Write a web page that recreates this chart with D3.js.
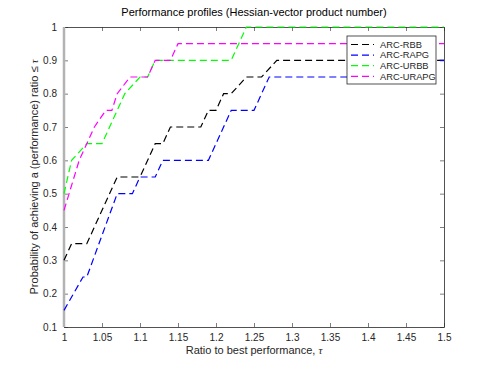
<!doctype html>
<html>
<head>
  <meta charset="utf-8">
  <script src="https://cdnjs.cloudflare.com/ajax/libs/d3/7.8.5/d3.min.js"></script>
  <style>
    body { margin: 0; background: white; }
    text { font-family: 'Liberation Sans', Arial, sans-serif; fill: #262626; }
    .tick text { font-size: 10px; }
    .tau { font-family: 'Liberation Serif', serif; font-style: italic; }
  </style>
</head>
<body>
  <script>
    const width = 491, height = 368;
    const margin = {left: 64, right: 47, top: 27, bottom: 41};

    const xTicks = [1, 1.05, 1.1, 1.15, 1.2, 1.25, 1.3, 1.35, 1.4, 1.45, 1.5];
    const yTicks = [0.1, 0.2, 0.3, 0.4, 0.5, 0.6, 0.7, 0.8, 0.9, 1];

    const names = ['ARC-RBB', 'ARC-RAPG', 'ARC-URBB', 'ARC-URAPG'];
    const colors = ['#000000', '#0000ff', '#00ff00', '#ff00ff'];

    // [tau, probability]
    const rbb = [[1,0.3],[1.01,0.35],[1.03,0.35],[1.07,0.55],[1.10,0.55],[1.12,0.65],[1.13,0.65],
      [1.14,0.7],[1.18,0.7],[1.19,0.75],[1.20,0.75],[1.21,0.8],[1.22,0.8],[1.24,0.85],[1.26,0.85],
      [1.28,0.9],[1.5,0.9]];
    const rapg = [[1,0.15],[1.025,0.25],[1.03,0.25],[1.07,0.5],[1.09,0.5],[1.10,0.55],[1.12,0.55],
      [1.13,0.6],[1.19,0.6],[1.22,0.75],[1.25,0.75],[1.27,0.85],[1.46,0.85],[1.47,0.9],[1.5,0.9]];
    const urbb = [[1,0.5],[1.01,0.6],[1.03,0.65],[1.05,0.65],[1.07,0.75],[1.08,0.8],[1.10,0.85],
      [1.11,0.85],[1.12,0.9],[1.22,0.9],[1.24,1],[1.5,1]];
    const urapg = [[1,0.45],[1.02,0.6],[1.03,0.65],[1.04,0.7],[1.055,0.75],[1.063,0.75],[1.07,0.8],
      [1.087,0.85],[1.11,0.85],[1.12,0.9],[1.14,0.9],[1.15,0.95],[1.5,0.95]];
    const series = [rbb, rapg, urbb, urapg];

    const iw = width - margin.left - margin.right;
    const ih = height - margin.top - margin.bottom;

    const svg = d3.select('body').append('svg')
      .attr('width', width)
      .attr('height', height);

    const g = svg.append('g')
      .attr('transform', `translate(${margin.left},${margin.top})`);

    const x = d3.scaleLinear().domain([1, 1.5]).range([0, iw]);
    const y = d3.scaleLinear().domain([0.1, 1]).range([ih, 0]);

    const fmt = d => String(+d.toFixed(2));

    // axes with inward ticks
    const axes = [
      [d3.axisBottom(x).tickValues(xTicks).tickFormat(fmt), `translate(0,${ih})`],
      [d3.axisTop(x).tickValues(xTicks).tickFormat(''), 'translate(0,0)'],
      [d3.axisLeft(y).tickValues(yTicks).tickFormat(fmt), 'translate(0,0)'],
      [d3.axisRight(y).tickValues(yTicks).tickFormat(''), `translate(${iw},0)`]
    ];
    axes.forEach(([ax, tr]) => {
      const a = g.append('g').attr('transform', tr)
        .call(ax.tickSizeInner(-4).tickSizeOuter(0).tickPadding(7));
      a.select('.domain').attr('stroke', '#262626').attr('stroke-width', 0.8);
      a.selectAll('.tick line').attr('stroke', '#262626').attr('stroke-width', 0.6);
    });
    // left spine looks light grey and thicker in the reference
    g.append('line').attr('x1', 0).attr('x2', 0).attr('y1', 0).attr('y2', ih)
      .attr('stroke', '#b3b3b3').attr('stroke-width', 2.5);

    const line = d3.line().x(d => x(d[0])).y(d => y(d[1]));

    series.forEach((s, i) => {
      g.append('path')
        .datum(s)
        .attr('d', line)
        .attr('fill', 'none')
        .attr('stroke', colors[i])
        .attr('stroke-width', 1.2)
        .attr('stroke-dasharray', '7,4');
    });

    // legend
    const lg = svg.append('g').attr('transform', 'translate(347,36)');
    lg.append('rect').attr('width', 89).attr('height', 48)
      .attr('fill', 'white').attr('stroke', '#262626').attr('stroke-width', 0.8);
    names.forEach((n, i) => {
      const yy = 8.5 + i * 10.6;
      lg.append('line').attr('x1', 4).attr('x2', 27).attr('y1', yy).attr('y2', yy)
        .attr('stroke', colors[i]).attr('stroke-width', 1.2).attr('stroke-dasharray', '7,4');
      lg.append('text').attr('x', 33).attr('y', yy).attr('dy', '0.35em')
        .attr('font-size', 9.3).text(n);
    });

    // title and labels
    svg.append('text').attr('x', margin.left + iw / 2).attr('y', 16)
      .attr('text-anchor', 'middle').attr('font-size', 11).style('fill', '#000')
      .text('Performance profiles (Hessian-vector product number)');

    const xl = svg.append('text').attr('x', margin.left + iw / 2).attr('y', 354)
      .attr('text-anchor', 'middle').attr('font-size', 11);
    xl.append('tspan').text('Ratio to best performance, ');
    xl.append('tspan').attr('class', 'tau').text('\u03c4');

    const yl = svg.append('text')
      .attr('transform', `translate(38,${margin.top + ih / 2}) rotate(-90)`)
      .attr('text-anchor', 'middle').attr('font-size', 11);
    yl.append('tspan').text('Probability of achieving a (performance) ratio \u2264 ');
    yl.append('tspan').attr('class', 'tau').text('\u03c4');
  </script>
</body>
</html>
